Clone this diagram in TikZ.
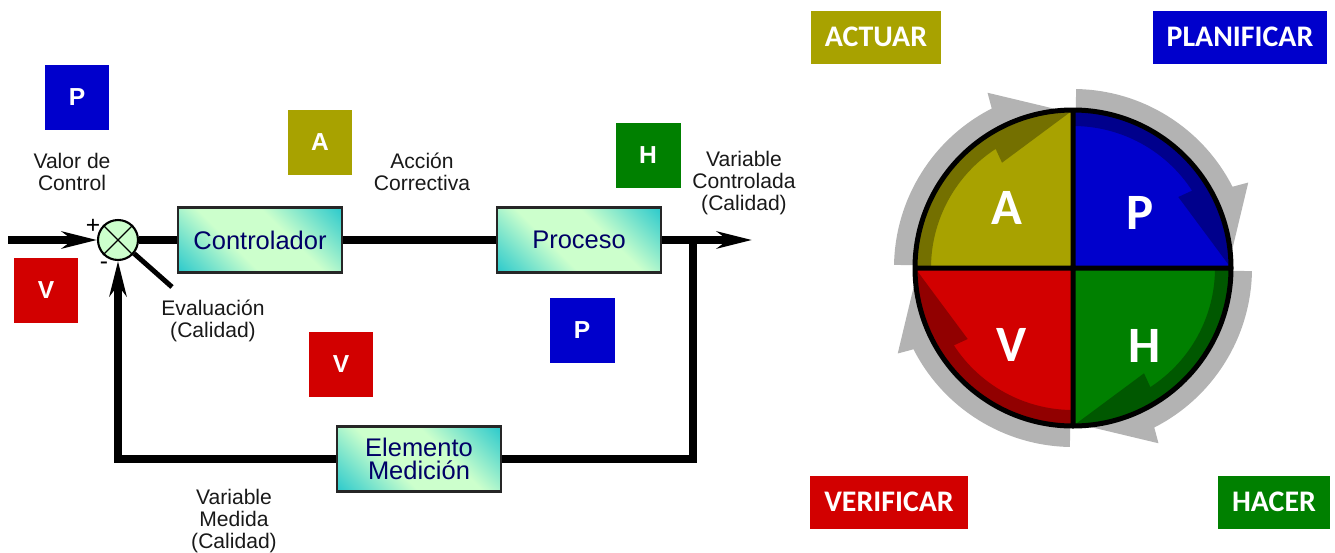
\documentclass[tikz,border=0pt]{standalone}
\usepackage{fontspec}
\setmainfont{Liberation Sans}
\newfontfamily\calfont{Carlito}
\usetikzlibrary{arrows.meta, positioning}
\usepackage{xcolor}
\definecolor{qA}{RGB}{168,162,0}
\definecolor{dA}{RGB}{116,112,0}
\definecolor{qP}{RGB}{0,0,204}
\definecolor{dP}{RGB}{0,0,140}
\definecolor{qH}{RGB}{0,128,0}
\definecolor{dH}{RGB}{0,88,0}
\definecolor{qV}{RGB}{210,0,0}
\definecolor{dV}{RGB}{145,0,0}
\definecolor{ringc}{RGB}{179,179,179}
\definecolor{tealc}{RGB}{51,204,204}
\definecolor{mintc}{RGB}{204,255,204}
\definecolor{navyc}{RGB}{0,0,102}
\pgfdeclarehorizontalshading{blockshade}{100bp}{color(0bp)=(tealc); color(16bp)=(tealc); color(40bp)=(mintc); color(60bp)=(mintc); color(84bp)=(tealc); color(100bp)=(tealc)}

\begin{document}
\begin{tikzpicture}[x=0.02cm, y=-0.02cm, >={Stealth[length=0.7cm, width=0.34cm, inset=0.22cm]}]
    \tikzstyle{flow}=[line width=5pt, draw=black]
    \tikzstyle{block}=[draw=black!85, line width=1.3pt, minimum width=3.28cm, minimum height=1.3cm, shading=blockshade, shading angle=45, text=navyc, font=\fontsize{14.5}{13}\selectfont, align=center]
    \tikzstyle{sumnode}=[circle, draw=black, line width=1.2pt, fill=mintc, minimum size=0.8cm, inner sep=0pt]
    \tikzstyle{tag}=[minimum size=1.3cm, inner sep=0pt, text=white, font=\bfseries\fontsize{14}{16}\selectfont]
    \tikzstyle{phase}=[minimum height=1.06cm, inner xsep=0.28cm, text=white, font=\calfont\bfseries\fontsize{17}{20}\selectfont]
    \tikzstyle{note}=[align=center, text=black!90, font=\fontsize{12}{12.5}\selectfont]
    \tikzstyle{letter}=[text=white, font=\calfont\bfseries\fontsize{29}{32}\selectfont]

    \useasboundingbox (0,0) rectangle (1335,552);

    % Draw the control loop blocks
    \node[sumnode] (sum) at (118,240) {};
    \node[block] (ctrl) at (260,240) {Controlador};
    \node[block] (proc) at (579,240) {Proceso};
    \node[block] (meas) at (419,459) {Elemento\\Medición};
    \draw[line width=0.7pt] (sum.north west) -- (sum.south east) (sum.north east) -- (sum.south west);

    \coordinate (in) at (8,240);
    \coordinate (out) at (752,240);
    \coordinate (branch) at (693,240);
    \coordinate (eval) at (172,287);

    % Connect the loop
    \draw[flow, ->] (in) -- (sum.west);
    \draw[flow] (sum.east) -- (ctrl.west);
    \draw[flow] (ctrl.east) -- (proc.west);
    \draw[flow, ->] (proc.east) -- (out);
    \draw[flow] (branch) |- (meas.east);
    \draw[flow, ->] (meas.west) -| (sum.south);
    \draw[line width=2.8pt] (sum.-40) -- (eval);

    % Annotate the loop
    \node[note] (valor) at (72,172) {Valor de\\Control};
    \node[note] (accion) at (422,172) {Acción\\Correctiva};
    \node[note] (vcon) at (744,183) {Variable\\Controlada\\(Calidad)};
    \node[note] (evalt) at (213,321) {Evaluación\\(Calidad)};
    \node[note] (vmed) at (234,521) {Variable\\Medida\\(Calidad)};
    \node[font=\fontsize{14}{14}\selectfont] (plus) at (93,226) {+};
    \node[font=\fontsize{14}{14}\selectfont] (minus) at (104,266) {-};

    % Letter tags
    \node[tag, fill=qP] (tP1) at (77,97) {P};
    \node[tag, fill=qA] (tA) at (320,142) {A};
    \node[tag, fill=qH] (tH) at (648,155) {H};
    \node[tag, fill=qV] (tV1) at (46,290) {V};
    \node[tag, fill=qV] (tV2) at (341,364) {V};
    \node[tag, fill=qP] (tP2) at (582,330) {P};

    % Phase labels
    \node[phase, fill=qA] (actuar) at (876,37) {ACTUAR};
    \node[phase, fill=qP] (planif) at (1240,37) {PLANIFICAR};
    \node[phase, fill=qV] (verif) at (889,502) {VERIFICAR};
    \node[phase, fill=qH] (hacer) at (1274,502) {HACER};

    % Draw the wheel
    \coordinate (wheel) at (1073,268);
    \begin{scope}[shift={(wheel)}, y=0.02cm]
        \foreach \rot in {0,-90,-180,-270}
            \fill[ringc, rotate=\rot] (179:179) arc[start angle=179, end angle=117, radius=179] -- (116:195) -- (93:157) -- (0,0) -- cycle;
        \foreach \rot/\qcol/\dcol in {0/qA/dA, -90/qP/dP, -180/qH/dH, -270/qV/dV}
        {
            \fill[\qcol, rotate=\rot] (0,0) -- (180:158) arc[start angle=180, end angle=90, radius=158] -- cycle;
            \fill[\dcol, rotate=\rot] (90:158) -- (124:127) -- (123:142) arc[start angle=123, end angle=180, radius=142] -- (180:158) arc[start angle=180, end angle=90, radius=158] -- cycle;
        }
        \draw[line width=0.1cm] (0,0) circle[radius=158] (-158,0) -- (158,0) (0,-158) -- (0,158);
    \end{scope}
    \node[letter] (lA) at (1007,208) {A};
    \node[letter] (lP) at (1140,213) {P};
    \node[letter] (lV) at (1012,345) {V};
    \node[letter] (lH) at (1145,346) {H};
\end{tikzpicture}
\end{document}
